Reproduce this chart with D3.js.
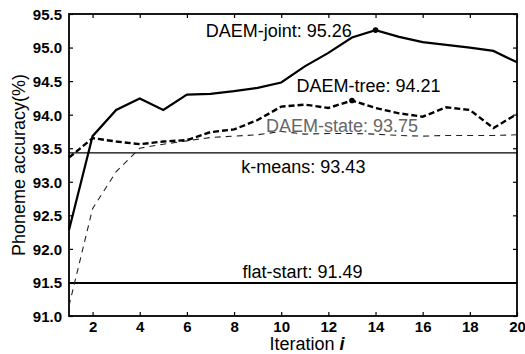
<!DOCTYPE html>
<html>
<head>
<meta charset="utf-8">
<script src="https://cdn.jsdelivr.net/npm/d3@7"></script>
<style>
  body { margin: 0; background: #fff; }
  svg { display: block; font-family: "Liberation Sans", Arial, sans-serif; }
</style>
</head>
<body>
<script>
const iterations = d3.range(1, 21);
const daemJoint = [92.28, 93.68, 94.07, 94.24, 94.07, 94.30, 94.31, 94.35, 94.40, 94.48,
  94.72, 94.92, 95.15, 95.26, 95.16, 95.08, 95.04, 95.00, 94.95, 94.78];
const daemTree = [93.36, 93.65, 93.60, 93.56, 93.60, 93.62, 93.74, 93.78, 93.92, 94.12,
  94.15, 94.10, 94.21, 94.10, 94.02, 93.97, 94.11, 94.07, 93.80, 94.01];
const daemState = [91.15, 92.60, 93.15, 93.50, 93.56, 93.61, 93.66, 93.68, 93.70, 93.75,
  93.71, 93.72, 93.72, 93.71, 93.69, 93.68, 93.69, 93.69, 93.69, 93.70];
const kMeans = 93.43;
const flatStart = 91.49;
const yTicks = [91.0, 91.5, 92.0, 92.5, 93.0, 93.5, 94.0, 94.5, 95.0, 95.5];
const xTicks = [2, 4, 6, 8, 10, 12, 14, 16, 18, 20];
const labels = [
  { text: "DAEM-joint: 95.26", x: 9.9, y: 95.16, color: "#000" },
  { text: "DAEM-tree: 94.21", x: 13.7, y: 94.34, color: "#000" },
  { text: "DAEM-state: 93.75", x: 12.58, y: 93.74, color: "#666" },
  { text: "k-means: 93.43", x: 10.94, y: 93.13, color: "#000" },
  { text: "flat-start: 91.49", x: 10.9, y: 91.57, color: "#000" }
];

const width = 525, height = 354;
const margin = { top: 14, right: 8, bottom: 38, left: 69 };
const w = width - margin.left - margin.right;
const h = height - margin.top - margin.bottom;

const svg = d3.select("body").append("svg")
  .attr("width", width)
  .attr("height", height);

const g = svg.append("g")
  .attr("transform", "translate(" + margin.left + "," + margin.top + ")");

const x = d3.scaleLinear().domain([1, 20]).range([0, w]);
const y = d3.scaleLinear().domain([91, 95.5]).range([h, 0]);

// axes with inward ticks on all four sides
g.append("g").attr("transform", "translate(0," + h + ")")
  .call(d3.axisBottom(x).tickValues(xTicks).tickSizeInner(-4).tickSizeOuter(0).tickPadding(5));
const yAxis = g.append("g")
  .call(d3.axisLeft(y).tickValues(yTicks).tickFormat(d3.format(".1f")).tickSizeInner(-4).tickSizeOuter(0).tickPadding(7));
g.append("g")
  .call(d3.axisTop(x).tickValues(xTicks).tickSizeInner(-4).tickSizeOuter(0).tickFormat(""));
g.append("g").attr("transform", "translate(" + w + ",0)")
  .call(d3.axisRight(y).tickValues(yTicks).tickSizeInner(-4).tickSizeOuter(0).tickFormat(""));

g.selectAll(".domain").remove();
g.selectAll(".tick line").attr("stroke", "#000").attr("stroke-width", 1.2);
g.selectAll(".tick text")
  .attr("fill", "#000")
  .style("font-family", "'Liberation Sans', Arial, sans-serif")
  .style("font-size", "15px")
  .style("font-weight", "bold");
yAxis.selectAll(".tick text").attr("dy", "0.36em");

g.append("rect")
  .attr("width", w).attr("height", h)
  .attr("fill", "none").attr("stroke", "#000").attr("stroke-width", 1.8);

// reference lines
[[kMeans, 1.4], [flatStart, 2]].forEach(([v, sw]) => {
  g.append("line")
    .attr("x1", 0).attr("x2", w)
    .attr("y1", y(v)).attr("y2", y(v))
    .attr("stroke", "#000").attr("stroke-width", sw);
});

const line = d3.line().x((d, i) => x(iterations[i])).y(d => y(d));

g.append("path").datum(daemState)
  .attr("d", line).attr("fill", "none")
  .attr("stroke", "#222").attr("stroke-width", 1.1)
  .attr("stroke-dasharray", "6,5");

g.append("path").datum(daemTree)
  .attr("d", line).attr("fill", "none")
  .attr("stroke", "#000").attr("stroke-width", 2.4)
  .attr("stroke-dasharray", "6,3");

g.append("path").datum(daemJoint)
  .attr("d", line).attr("fill", "none")
  .attr("stroke", "#000").attr("stroke-width", 2.2);

// best-value markers
g.append("circle").attr("cx", x(14)).attr("cy", y(daemJoint[13])).attr("r", 2.8).attr("fill", "#000");
g.append("circle").attr("cx", x(13)).attr("cy", y(daemTree[12])).attr("r", 2.8).attr("fill", "#000");

g.selectAll(".series-label").data(labels).enter().append("text")
  .attr("class", "series-label")
  .attr("x", d => x(d.x))
  .attr("y", d => y(d.y))
  .attr("text-anchor", "middle")
  .attr("fill", d => d.color)
  .style("font-size", "18px")
  .text(d => d.text);

// axis titles
svg.append("text")
  .attr("transform", "translate(25," + (margin.top + h / 2) + ") rotate(-90)")
  .attr("text-anchor", "middle")
  .style("font-size", "18px")
  .text("Phoneme accuracy(%)");

const xt = svg.append("text")
  .attr("x", 307).attr("y", 350)
  .attr("text-anchor", "middle")
  .style("font-size", "18px");
xt.append("tspan").text("Iteration ");
xt.append("tspan").style("font-style", "italic").style("font-weight", "bold").text("i");
</script>
</body>
</html>
